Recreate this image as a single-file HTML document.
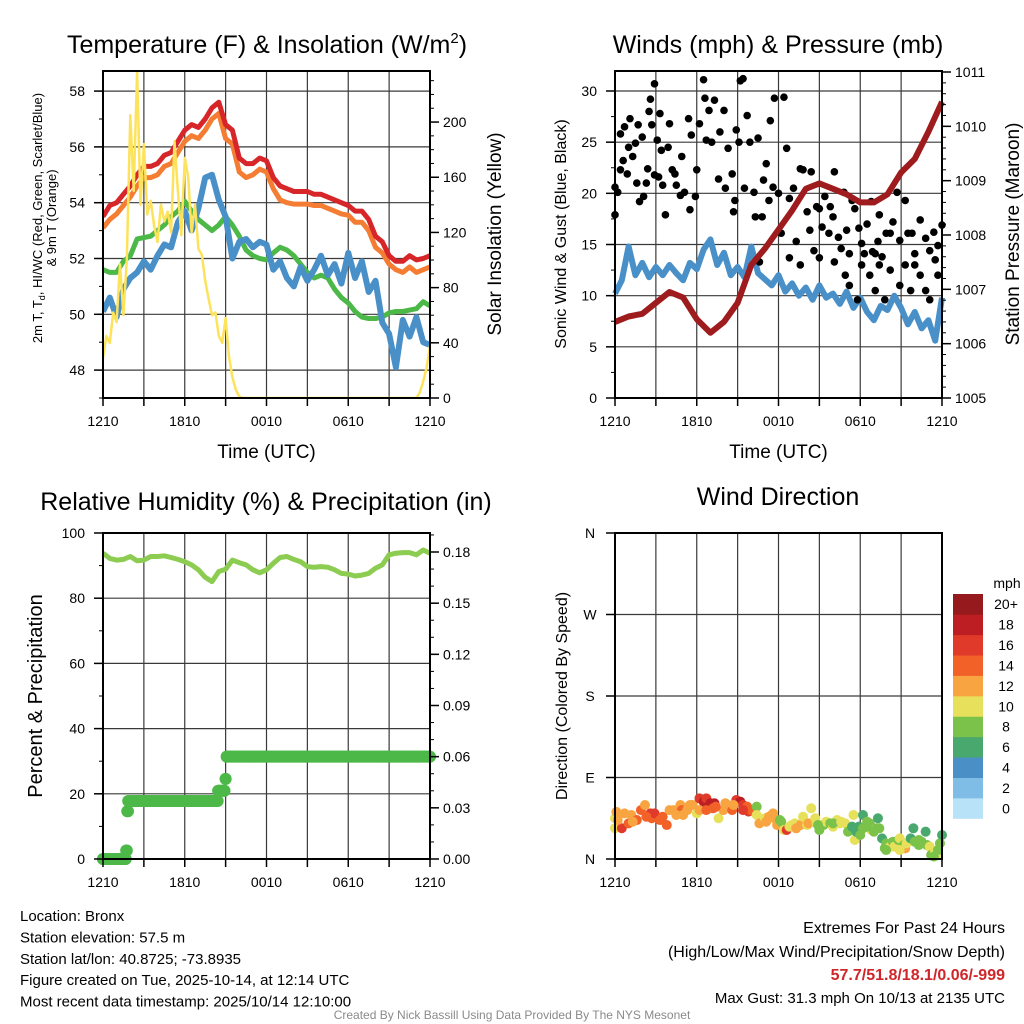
<!DOCTYPE html>
<html><head><meta charset="utf-8"><style>
html,body{margin:0;padding:0;background:#fff;}
svg{display:block;font-family:"Liberation Sans",sans-serif;}
</style></head><body>
<svg id="fig" width="1024" height="1024" viewBox="0 0 1024 1024" xmlns="http://www.w3.org/2000/svg"></svg>
<script>
// ===== Panel 1 data (half-hourly from 1210 UTC) =====
const tempRed = [53.5,53.9,54.0,54.3,54.6,55.0,55.3,55.3,55.4,55.7,55.8,56.2,56.6,56.8,56.7,57.0,57.4,57.6,56.8,56.6,55.6,55.4,55.4,55.6,55.5,54.9,54.6,54.5,54.4,54.4,54.4,54.3,54.3,54.2,54.1,54.0,53.9,53.7,53.7,53.4,52.8,52.6,52.1,51.9,51.9,52.1,51.95,52.0,52.1];
const tempOrange = [53.1,53.4,53.6,53.9,54.2,54.6,54.9,54.9,55.0,55.3,55.4,55.8,56.2,56.4,56.3,56.6,57.0,57.2,56.3,56.1,55.1,54.9,55.0,55.2,55.1,54.5,54.1,54.0,53.95,53.95,53.95,53.9,53.9,53.8,53.7,53.6,53.55,53.3,53.3,53.0,52.4,52.2,51.8,51.6,51.5,51.7,51.5,51.6,51.7];
const tempGreen = [51.6,51.5,51.5,51.9,52.1,52.7,52.75,52.8,53.0,53.2,53.5,53.7,54.05,53.7,53.4,53.2,53.0,53.2,53.5,53.2,52.8,52.3,52.1,52.0,51.95,52.2,52.4,52.3,52.1,51.8,51.5,51.3,51.4,51.3,50.9,50.6,50.4,50.1,49.9,49.85,49.85,49.9,50.05,50.1,50.1,50.15,50.2,50.45,50.3];
const tempBlue = [50.1,50.6,49.9,50.9,51.3,51.5,51.9,51.6,52.1,52.5,52.4,53.3,53.7,53.0,53.8,54.9,55.0,54.1,53.5,52.0,52.6,52.7,52.4,52.6,52.5,51.6,51.9,51.3,51.0,51.7,51.2,51.6,52.1,51.4,51.8,51.1,52.2,51.3,51.9,50.8,51.2,49.7,49.3,48.1,49.8,49.2,49.9,49.0,48.9];
// quarter-hourly solar insolation (W/m2)
const solar = [29,45,40,62,55,97,60,100,205,150,237,140,184,133,143,125,113,140,128,135,120,186,150,118,174,160,120,140,108,104,85,72,60,62,45,40,58,30,15,6,1,0,0,0,0,0,0,0,0,0,0,0,0,0,0,0,0,0,0,0,0,0,0,0,0,0,0,0,0,0,0,0,0,0,0,0,0,0,0,0,0,0,0,0,0,0,0,0,0,0,0,0,0,4,12,22,38];
const p1LeftTicks = [48,50,52,54,56,58];
const p1RightTicks = [0,40,80,120,160,200];
const timeTickLabels = ["1210","1810","0010","0610","1210"];

// ===== Panel 2 data =====
const windSpeed = [10.2,11.5,14.8,12.0,13.2,11.8,12.8,12.0,13.0,12.2,11.5,13.2,12.6,14.5,15.5,13.0,14.2,12.0,12.8,11.8,14.8,12.2,11.6,11.0,12.0,10.4,11.2,10.0,10.8,9.6,11.0,9.8,10.2,9.2,10.4,8.8,9.8,8.4,7.6,9.0,8.6,10.0,8.8,7.2,8.4,6.8,7.6,5.6,9.8];
const pressure = [1006.4,1006.5,1006.55,1006.75,1006.95,1006.85,1006.45,1006.2,1006.4,1006.75,1007.45,1007.75,1008.1,1008.45,1008.85,1008.95,1008.85,1008.75,1008.6,1008.6,1008.75,1009.15,1009.4,1009.9,1010.45];
const gustHour = [0.0,0.0,0.2,0.4,0.4,0.6,0.7,0.9,1.0,1.1,1.3,1.5,1.6,1.7,1.8,2.0,2.1,2.3,2.4,2.5,2.6,2.7,2.9,2.9,3.1,3.2,3.3,3.4,3.5,3.7,3.9,4.0,4.2,4.4,4.5,4.8,4.9,5.1,5.4,5.5,5.6,5.9,6.0,6.2,6.5,6.6,6.7,6.9,7.1,7.3,7.6,7.7,8.0,8.1,8.3,8.6,8.7,8.8,8.9,9.1,9.2,9.4,9.5,9.7,9.9,10.2,10.3,10.5,10.8,10.9,11.1,11.3,11.4,11.6,11.7,12.0,12.2,12.4,12.6,12.8,13.1,13.3,13.6,13.8,14.1,14.3,14.4,14.6,14.8,15.0,15.2,15.4,15.7,15.8,16.0,16.1,16.4,16.6,16.8,17.0,17.2,17.4,17.6,17.9,18.1,18.3,18.5,18.8,19.1,19.3,19.4,19.6,19.9,20.2,20.4,20.7,20.9,21.3,21.5,21.8,22.0,22.4,22.8,23.1,23.4,23.7,24.0,10.6,12.8,13.6,15.0,16.1,16.9,17.2,17.8,18.1,18.7,19.1,19.4,19.8,20.2,20.9,21.3,21.7,22.0,22.4,22.8,23.1,23.5,23.7,18.9];
const gustMph = [20.6,17.9,20.1,22.3,25.8,23.2,26.5,21.9,24.5,27.3,23.6,24.9,21.0,26.7,19.2,25.5,19.7,21.0,22.4,28.0,29.2,26.7,21.8,30.7,25.2,21.6,27.8,24.2,20.8,17.9,24.5,26.8,22.3,21.9,20.8,19.8,23.6,20.1,27.3,18.4,25.7,19.7,22.3,26.8,31.1,29.3,25.2,28.1,25.0,29.1,21.4,26.0,28.1,20.5,24.4,21.9,18.2,19.3,26.2,25.0,31.0,31.2,20.5,27.6,25.0,20.1,17.7,25.4,17.7,21.3,22.9,19.3,27.1,20.6,29.3,20.0,16.1,29.4,24.4,19.5,20.5,15.3,22.4,22.3,18.2,16.4,22.1,14.4,18.7,18.5,16.7,19.7,16.1,18.7,17.7,22.1,15.7,14.6,20.1,16.4,14.1,19.3,18.5,16.6,15.1,14.1,17.0,19.2,14.1,15.3,17.9,13.8,16.1,16.1,17.2,20.1,15.4,19.3,16.1,16.1,14.1,17.4,15.6,14.4,16.2,14.9,16.9,13.3,13.7,13.0,13.7,13.3,12.0,11.0,9.6,13.0,12.0,10.5,13.0,9.6,12.5,11.0,13.0,10.5,13.0,12.0,10.5,9.6,13.5,12.0,14.3];
const p2LeftTicks = [0,5,10,15,20,25,30];
const p2RightTicks = [1005,1006,1007,1008,1009,1010,1011];

// ===== Panel 3 data =====
const rh = [93.8,92.2,91.7,91.9,92.8,91.5,91.7,92.8,92.8,93.0,92.5,91.9,91.2,90.2,88.7,86.4,85.1,88.2,88.9,91.7,90.9,90.2,88.7,87.8,88.7,90.7,92.5,92.8,91.9,91.2,89.7,89.5,89.7,89.5,88.7,87.6,87.4,86.8,87.1,87.6,89.2,90.2,93.3,93.8,94.0,94.0,93.3,94.8,93.8];
const precipStepHour = [0,1.7,1.78,1.85,8.45,8.9,9.0,9.08];
const precipStepValue = [0,0.005,0.028,0.034,0.040,0.040,0.047,0.060];
const p3LeftTicks = [0,20,40,60,80,100];
const p3RightTicks = [0,0.03,0.06,0.09,0.12,0.15,0.18];
const p3RightLabels = ["0.00","0.03","0.06","0.09","0.12","0.15","0.18"];

// ===== Panel 4 data =====
const dirHour = [0,0.1,0,0.5,0.7,1.0,1.2,1.6,1.9,2.2,2.6,2.7,2.9,3.3,3.5,3.8,4.0,4.3,4.8,4.9,5.0,5.4,5.7,6.0,6.2,6.5,6.7,7.0,7.3,6.2,6.7,7.2,7.6,7.95,8.3,8.6,8.9,9.2,9.4,9.7,9.8,10.0,10.4,10.4,10.6,11.0,11.3,11.6,11.7,11.9,12.2,12.4,12.6,12.8,13.2,13.6,13.8,14.1,14.2,14.4,14.7,14.8,15.0,15.3,15.5,15.8,16.0,16.3,16.5,16.9,17.1,17.4,17.5,17.6,17.7,17.9,18.0,18.2,18.5,18.7,18.8,19.0,19.3,19.4,19.6,19.8,19.9,20.2,20.4,20.5,20.8,20.9,21.2,21.3,21.4,21.7,21.9,22.0,22.3,22.5,22.8,22.9,23.1,23.2,23.5,23.6,23.7,23.85,24.0,0.2,1.3,2.3,4.5,5.3,5.5,7.4,8.1,8.7,9.4,11.1,11.5,12.1,12.97,13.3,14.9,16.0,16.6,18.2,18.5,19.2,19.9,20.9,22.3,23.4];
const dirDeg = [45,52,34,34,50.4,39.4,48.6,43,54,59.6,50.4,45,50.4,43,46.7,37.5,54,54,59.6,54,48.6,57.8,59.6,50.4,67,63.3,67,61.5,61.5,54,54,56,45,54,59.6,54,65.1,63.3,59.6,57.8,52.3,54,57.8,48.6,39.4,45,46.7,50.4,45,37.5,41.2,32,32,35.7,39.4,37.5,46.7,37.5,39.4,56,45,39.4,32,37.5,41.2,39.4,35.7,43,39.4,39.4,30.2,35.7,48.6,21,30.2,35.7,26.5,48.6,41.2,39.4,32,30.2,45,33.9,22.8,11.8,17.3,13.6,19.1,13.6,21,22.8,15.4,11.8,17.3,22.8,33.9,19.1,21,19.1,30.2,15.4,13.6,4.4,8.1,4.4,9.9,17.3,26.5,43,41.2,46.7,48.6,54,59.6,57.8,61.5,59.6,54,41.2,48.6,43,37.5,33.9,37.5,39.4,41.2,33.9,35.7,33.9,9.9,9.9,15.4,2.6];
const dirSpeed = [10,12,10,17,13,14,12,14,14,12,16,14,17,14,14,14,12,12,12,14,12,12,12,10,17,19,17,19,19,13,14,14,10,13,13,14,17,19,17,14,16,14,8,10,12,10,12,12,12,12,8,10,16,10,10,12,10,10,12,10,10,10,8,8,10,8,10,10,10,10,8,7,10,10,6,6,8,6,8,8,10,8,6,8,6,8,8,10,8,10,8,10,8,12,10,6,6,8,8,8,6,8,10,8,10,10,8,8,6,13,13,14,12,13,12,14,13,13,16,12,12,8,10,12,8,8,10,8,8,8,8,10,8,8];
const dirTicks = [0,90,180,270,360];
const dirLabels = ["N","E","S","W","N"];
const cbLabels = ["0","2","4","6","8","10","12","14","16","18","20+"];
const cbColors = ["#b8e2f8","#80bde6","#4a8fc6","#48a86e","#7bc24a","#e6e05a","#f8a440","#f26228","#e03a2a","#bc1e24","#961a1d"];

// ===== drawing =====
const NS = "http://www.w3.org/2000/svg";
const svg = document.getElementById("fig");
function el(tag, attrs, parent) {
  const e = document.createElementNS(NS, tag);
  for (const k in attrs) e.setAttribute(k, attrs[k]);
  (parent || svg).appendChild(e);
  return e;
}
function txt(s, attrs, parent) { const t = el("text", attrs, parent); t.textContent = s; return t; }
function lin(d0, d1, r0, r1) { return v => r0 + (v - d0) / (d1 - d0) * (r1 - r0); }

function panel(name, box) {
  const g = el("g", {});
  
  
  return g;
}
function vgrid(g, box) {
  const xs = lin(0, 24, box.x0, box.x1);
  for (let h = 3; h < 24; h += 3) {
    const l = el("line", {x1: xs(h), x2: xs(h), y1: box.y0, y2: box.y1, stroke: "#3a3a3a", "stroke-width": 1.2}, g);
    
    
  }
}
function hgrid(g, box, ys, vals) {
  vals.forEach(v => {
    const l = el("line", {x1: box.x0, x2: box.x1, y1: ys(v), y2: ys(v), stroke: "#3a3a3a", "stroke-width": 1.2}, g);
    
    
  });
}
function frame(g, box) {
  const r = el("rect", {x: box.x0, y: box.y0, width: box.x1 - box.x0, height: box.y1 - box.y0, fill: "none", stroke: "#000", "stroke-width": 2}, g);
  
  
}
function xaxis(g, box, withTitle) {
  const xs = lin(0, 24, box.x0, box.x1);
  for (let h = 0; h <= 24; h += 3) el("line", {x1: xs(h), x2: xs(h), y1: box.y1, y2: box.y1 + 8, stroke: "#000", "stroke-width": 1.5}, g);
  timeTickLabels.forEach((s, i) => {
    const t = txt(s, {x: xs(i * 6), y: box.y1 + 28, "font-size": 14, "text-anchor": "middle"}, g);
    
    
  });
  if (withTitle) {
    const t = txt("Time (UTC)", {x: (box.x0 + box.x1) / 2, y: box.y1 + 60, "font-size": 19, "text-anchor": "middle"}, g);
    
    
  }
}
function leftTicks(g, box, ys, major, labels, minorStep, d0, d1) {
  for (let v = d0; v <= d1 + 1e-9; v += minorStep) {
    const y = ys(v); if (y < box.y0 - 0.5 || y > box.y1 + 0.5) continue;
    el("line", {x1: box.x0 - 4, x2: box.x0, y1: y, y2: y, stroke: "#000", "stroke-width": 1}, g);
  }
  major.forEach((v, i) => {
    el("line", {x1: box.x0 - 9, x2: box.x0, y1: ys(v), y2: ys(v), stroke: "#000", "stroke-width": 1.5}, g);
    const t = txt(labels[i], {x: box.x0 - 18, y: ys(v) + 5, "font-size": 14, "text-anchor": "end"}, g);
    
    
  });
}
function rightTicks(g, box, ys, major, labels, minorStep, d0, d1) {
  for (let v = d0; v <= d1 + 1e-9; v += minorStep) {
    const y = ys(v); if (y < box.y0 - 0.5 || y > box.y1 + 0.5) continue;
    el("line", {x1: box.x1, x2: box.x1 + 4, y1: y, y2: y, stroke: "#000", "stroke-width": 1}, g);
  }
  major.forEach((v, i) => {
    el("line", {x1: box.x1, x2: box.x1 + 9, y1: ys(v), y2: ys(v), stroke: "#000", "stroke-width": 1.5}, g);
    const t = txt(labels[i], {x: box.x1 + 13, y: ys(v) + 5, "font-size": 14, "text-anchor": "start"}, g);
    
    
  });
}
function pathFrom(vals, xf, yf, stepH) {
  return vals.map((v, i) => (i ? "L" : "M") + xf(i * stepH).toFixed(1) + "," + yf(v).toFixed(1)).join("");
}
function title(s, x, y) {
  const t = txt(s, {x: x, y: y, "font-size": 25, "text-anchor": "middle"});
  
  
  return t;
}
function vlabel(s, x, y, size, name) {
  const t = txt(s, {x: 0, y: 0, "font-size": size, "text-anchor": "middle", transform: `translate(${x},${y}) rotate(-90)`});
  
  
  return t;
}

// ---------- Panel 1 ----------
{
  const box = {x0: 103, x1: 430, y0: 71, y1: 398};
  const g = panel('temperature-panel', box);
  const xs = lin(0, 24, box.x0, box.x1);
  const ys = lin(47, 58.72, box.y1, box.y0);
  const ysol = lin(0, 237, box.y1, box.y0);
  vgrid(g, box); hgrid(g, box, ys, p1LeftTicks);
  const clipId = "c1";
  const cp = el("clipPath", {id: clipId}, g);
  el("rect", {x: box.x0, y: box.y0, width: box.x1 - box.x0, height: box.y1 - box.y0}, cp);
  const series = [[tempGreen, "#4cb848", "dewpoint-line", 5], [tempBlue, "#4a90c8", "heat-index-line", 6], [tempOrange, "#f47d33", "temp-9m-line", 5], [tempRed, "#d7262a", "temp-2m-line", 5]];
  series.forEach(s => {
    const p = el("path", {d: pathFrom(s[0], xs, ys, 0.5), fill: "none", stroke: s[1], "stroke-width": s[3], "stroke-linejoin": "round", "clip-path": `url(#${clipId})`}, g);
    
    
  });
  const ps = el("path", {d: pathFrom(solar, xs, ysol, 0.25), fill: "none", stroke: "#fde35c", "stroke-width": 2.5, "stroke-linejoin": "round", "clip-path": `url(#${clipId})`}, g);
  
  
  frame(g, box);
  leftTicks(g, box, ys, p1LeftTicks, p1LeftTicks.map(String), 1, 47, 58);
  rightTicks(g, box, ysol, p1RightTicks, p1RightTicks.map(String), 10, 0, 230);
  xaxis(g, box, true);
  const t = title("", 267, 53);
  t.innerHTML = 'Temperature (F) &amp; Insolation (W/m<tspan dy="-10" font-size="15">2</tspan><tspan dy="10">)</tspan>';
  const yl = txt("", {x: 0, y: 0, "font-size": 13, "text-anchor": "middle", transform: "translate(42,218) rotate(-90)"}, g);
  
  
  yl.innerHTML = '2m T, T<tspan dy="3" font-size="9">d</tspan><tspan dy="-3">, HI/WC (Red, Green, Scarlet/Blue)</tspan>';
  const yl2 = txt("& 9m T (Orange)", {x: 0, y: 0, "font-size": 13, "text-anchor": "middle", transform: "translate(56,218) rotate(-90)"}, g);
  
  
  vlabel("Solar Insolation (Yellow)", 501, 234, 19, 'y-axis-title-right');
}

// ---------- Panel 2 ----------
{
  const box = {x0: 615, x1: 942, y0: 71, y1: 398};
  const g = panel('winds-pressure-panel', box);
  const xs = lin(0, 24, box.x0, box.x1);
  const ys = lin(0, 30, box.y1, 91);
  const yp = lin(1005, 1011, box.y1, 72);
  vgrid(g, box); hgrid(g, box, ys, [5, 10, 15, 20, 25, 30]);
  const pw = el("path", {d: pathFrom(windSpeed, xs, ys, 0.5), fill: "none", stroke: "#4a90c8", "stroke-width": 6, "stroke-linejoin": "round"}, g);
  
  
  gustHour.forEach((h, i) => {
    const c = el("circle", {cx: xs(h), cy: ys(gustMph[i]), r: 3.8, fill: "#000"}, g);
    
    
  });
  const pp = el("path", {d: pathFrom(pressure, xs, yp, 1), fill: "none", stroke: "#9e1b1e", "stroke-width": 6, "stroke-linejoin": "round"}, g);
  
  
  frame(g, box);
  leftTicks(g, box, ys, p2LeftTicks, p2LeftTicks.map(String), 2.5, 0, 32.5);
  rightTicks(g, box, yp, p2RightTicks, p2RightTicks.map(String), 0.2, 1005, 1011);
  xaxis(g, box, true);
  title("Winds (mph) & Pressure (mb)", 778, 53);
  vlabel("Sonic Wind & Gust (Blue, Black)", 566, 234, 16, 'y-axis-title-left');
  vlabel("Station Pressure (Maroon)", 1019, 234, 19, 'y-axis-title-right');
}

// ---------- Panel 3 ----------
{
  const box = {x0: 103, x1: 430, y0: 533, y1: 859};
  const g = panel('humidity-precip-panel', box);
  const xs = lin(0, 24, box.x0, box.x1);
  const ys = lin(0, 100, box.y1, box.y0);
  const yp = lin(0, 0.18, box.y1, 552);
  vgrid(g, box); hgrid(g, box, ys, [20, 40, 60, 80]);
  const pr = el("path", {d: pathFrom(rh, xs, ys, 0.5), fill: "none", stroke: "#8ccc50", "stroke-width": 5, "stroke-linejoin": "round"}, g);
  
  
  for (let m = 0; m <= 24 * 60; m += 5) {
    const h = m / 60;
    let v = precipStepValue[0];
    for (let k = 0; k < precipStepHour.length; k++) if (h >= precipStepHour[k]) v = precipStepValue[k];
    const c = el("circle", {cx: xs(h), cy: yp(v), r: 6, fill: "#4cb848"}, g);
    
    
  }
  precipStepHour.forEach((h, i) => {
    const c = el("circle", {cx: xs(h), cy: yp(precipStepValue[i]), r: 6, fill: "#4cb848"}, g);
    
    
  });
  frame(g, box);
  leftTicks(g, box, ys, p3LeftTicks, p3LeftTicks.map(String), 10, 0, 100);
  rightTicks(g, box, yp, p3RightTicks, p3RightLabels, 0.01, 0, 0.19);
  xaxis(g, box, false);
  title("Relative Humidity (%) & Precipitation (in)", 266, 510);
  vlabel("Percent & Precipitation", 42, 696, 20, 'y-axis-title-left');
}

// ---------- Panel 4 ----------
{
  const box = {x0: 615, x1: 942, y0: 533, y1: 859};
  const g = panel('wind-direction-panel', box);
  const xs = lin(0, 24, box.x0, box.x1);
  const ys = lin(0, 360, box.y1, box.y0);
  vgrid(g, box); hgrid(g, box, ys, [90, 180, 270]);
  dirHour.forEach((h, i) => {
    const idx = Math.min(10, Math.floor(dirSpeed[i] / 2));
    const c = el("circle", {cx: xs(h), cy: ys(dirDeg[i]), r: 5, fill: cbColors[idx]}, g);
    
    
  });
  frame(g, box);
  dirTicks.forEach((v, i) => {
    el("line", {x1: box.x0 - 9, x2: box.x0, y1: ys(v), y2: ys(v), stroke: "#000", "stroke-width": 1.5}, g);
    const t = txt(dirLabels[i], {x: 590, y: ys(v) + 5, "font-size": 14, "text-anchor": "middle"}, g);
    
    
  });
  xaxis(g, box, false);
  title("Wind Direction", 778, 505);
  vlabel("Direction (Colored By Speed)", 567, 696, 16, 'y-axis-title-left');
  const cb = el("g", {}, g);
  
  
  const bh = (818.5 - 594) / 11;
  cbColors.forEach((c, i) => {
    const y = 818.5 - (i + 1) * bh;
    const r = el("rect", {x: 953, y: y, width: 30, height: bh + 0.3, fill: c}, cb);
    
    
    const t = txt(cbLabels[i], {x: 1006, y: y + bh / 2 + 5, "font-size": 14, "text-anchor": "middle"}, cb);
    
    
  });
  const mt = txt("mph", {x: 1007, y: 588, "font-size": 14, "text-anchor": "middle"}, cb);
  
  
}

// ---------- Footer ----------
{
  const g = el("g", {});
  
  
  const left = ["Location: Bronx", "Station elevation: 57.5 m", "Station lat/lon: 40.8725; -73.8935", "Figure created on Tue, 2025-10-14, at 12:14 UTC", "Most recent data timestamp: 2025/10/14 12:10:00"];
  left.forEach((s, i) => {
    const t = txt(s, {x: 20, y: 921 + i * 21.4, "font-size": 15}, g);
    
    
  });
  const r1 = txt("Extremes For Past 24 Hours", {x: 1005, y: 933, "font-size": 16, "text-anchor": "end"}, g);
  
  
  const r2 = txt("(High/Low/Max Wind/Precipitation/Snow Depth)", {x: 1005, y: 957, "font-size": 16, "text-anchor": "end"}, g);
  
  
  const r3 = txt("57.7/51.8/18.1/0.06/-999", {x: 1005, y: 980, "font-size": 16, "font-weight": "bold", fill: "#d0262a", "text-anchor": "end"}, g);
  
  
  const r4 = txt("Max Gust: 31.3 mph On 10/13 at 2135 UTC", {x: 1005, y: 1003, "font-size": 15, "text-anchor": "end"}, g);
  
  
  const c = txt("Created By Nick Bassill Using Data Provided By The NYS Mesonet", {x: 512, y: 1019, "font-size": 12, fill: "#8a8a8a", "text-anchor": "middle"}, g);
  
  
}
</script>
</body></html>
